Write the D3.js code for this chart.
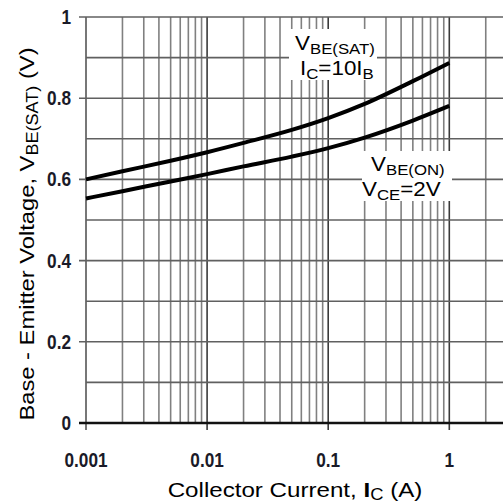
<!DOCTYPE html>
<html>
<head>
<meta charset="utf-8">
<script src="https://cdn.jsdelivr.net/npm/d3@7"></script>
<style>
  body { margin: 0; background: #fff; }
  svg { display: block; }
</style>
</head>
<body>
<div id="chart"></div>
<script>
// ==== Data ====
const current = [0.001, 0.002, 0.005, 0.01, 0.02, 0.05, 0.1, 0.2, 0.5, 1];
const vbeSat  = [0.600, 0.620, 0.646, 0.667, 0.690, 0.722, 0.751, 0.786, 0.842, 0.887];
const vbeOn   = [0.553, 0.571, 0.595, 0.613, 0.632, 0.656, 0.677, 0.703, 0.745, 0.781];
const xTicks = [0.001, 0.01, 0.1, 1];
const yTicks = [0, 0.2, 0.4, 0.6, 0.8, 1];

const W = 503, H = 504;
const svg = d3.select("#chart").append("svg")
    .attr("width", W).attr("height", H);

const x = d3.scaleLog().domain([0.001, 1]).range([86, 449.3]);
const y = d3.scaleLinear().domain([0, 1]).range([423, 17]);
const xMax = x.invert(W);

// ==== Grid ====
const minor = [];
[0.001, 0.01, 0.1, 1].forEach(d => {
    for (let k = 2; k <= 9; k++) if (d * k <= xMax) minor.push(d * k);
});

svg.append("g").selectAll("line")
    .data(minor).enter().append("line")
    .attr("x1", d => x(d)).attr("x2", d => x(d))
    .attr("y1", y(1)).attr("y2", y(0))
    .attr("stroke", "#808080").attr("stroke-width", 1.6);

svg.append("g").selectAll("line")
    .data(xTicks).enter().append("line")
    .attr("x1", d => x(d)).attr("x2", d => x(d))
    .attr("y1", y(1)).attr("y2", y(0) + 7)
    .attr("stroke", d => d === 0.001 ? "#555" : "#3a3a3a").attr("stroke-width", 1.6);

svg.append("g").selectAll("line")
    .data(d3.range(1, 11).map(i => i / 10)).enter().append("line")
    .attr("x1", d => yTicks.includes(d) ? 79 : 86).attr("x2", W)
    .attr("y1", d => y(d)).attr("y2", d => y(d))
    .attr("stroke", "#606060").attr("stroke-width", 1.6);

svg.append("line")
    .attr("x1", 79).attr("x2", W)
    .attr("y1", y(0)).attr("y2", y(0))
    .attr("stroke", "#111").attr("stroke-width", 2.6);

// ==== Curves ====
const line = d3.line()
    .x(d => x(d[0]))
    .y(d => y(d[1]))
    .curve(d3.curveMonotoneX);

[vbeSat, vbeOn].forEach(s => {
    svg.append("path")
        .datum(current.map((c, i) => [c, s[i]]))
        .attr("fill", "none")
        .attr("stroke", "#000")
        .attr("stroke-width", 4)
        .attr("d", line);
});

// ==== Tick labels ====
const tickFont = "'Liberation Sans', Arial, sans-serif";

svg.append("g").selectAll("text")
    .data(yTicks).enter().append("text")
    .attr("transform", d => `translate(71,${y(d) + 7}) scale(0.82,1)`)
    .attr("text-anchor", "end")
    .style("font-family", tickFont).style("font-weight", "bold")
    .style("font-size", "21px").attr("fill", "#1a1a28")
    .text(d => d === 0 ? "0" : d === 1 ? "1" : d.toFixed(1));

svg.append("g").selectAll("text")
    .data(xTicks).enter().append("text")
    .attr("transform", d => `translate(${x(d)},467) scale(0.82,1)`)
    .attr("text-anchor", "middle")
    .style("font-family", tickFont).style("font-weight", "bold")
    .style("font-size", "21px").attr("fill", "#1a1a28")
    .text(d => String(d));

// ==== Annotation boxes ====
const labFont = "'Liberation Sans', Arial, sans-serif";

function label(tx, ty, parts) {
    const t = svg.append("text")
        .attr("transform", `translate(${tx},${ty}) scale(1.12,1)`)
        .style("font-family", labFont).style("font-size", "20px")
        .attr("fill", "#000");
    parts.forEach(p => {
        const sp = t.append("tspan").text(p[0]);
        if (p[1] === "sub") sp.style("font-size", "15px").attr("dy", 4);
        else if (p[1] === "up") sp.attr("dy", -4);
    });
    return t;
}

svg.append("rect").attr("x", 289).attr("y", 29).attr("width", 88).attr("height", 51).attr("fill", "#fff");
svg.append("rect").attr("x", 362).attr("y", 151).attr("width", 90).attr("height", 50).attr("fill", "#fff");

label(295, 50, [["V"], ["BE(SAT)", "sub"]]);
label(300, 75, [["I"], ["C", "sub"], ["=10I", "up"], ["B", "sub"]]);
label(371, 171, [["V"], ["BE(ON)", "sub"]]);
label(362, 196, [["V"], ["CE", "sub"], ["=2V", "up"]]);

// ==== Axis titles ====
const xt = svg.append("text")
    .attr("transform", "translate(295,497) scale(1.15,1)")
    .attr("text-anchor", "middle")
    .style("font-family", labFont).style("font-size", "21px");
xt.append("tspan").text("Collector Current, ");
xt.append("tspan").text("I").style("font-weight", "bold");
xt.append("tspan").text("C").style("font-size", "16px").attr("dy", 3);
xt.append("tspan").text(" (A)").attr("dy", -3);

const yt = svg.append("text")
    .attr("transform", "translate(34,234) rotate(-90) scale(1.13,1)")
    .attr("text-anchor", "middle")
    .style("font-family", labFont).style("font-size", "21px");
yt.append("tspan").text("Base - Emitter Voltage, V");
yt.append("tspan").text("BE(SAT)").style("font-size", "16px").attr("dy", 4);
yt.append("tspan").text(" (V)").attr("dy", -4);
</script>
</body>
</html>
